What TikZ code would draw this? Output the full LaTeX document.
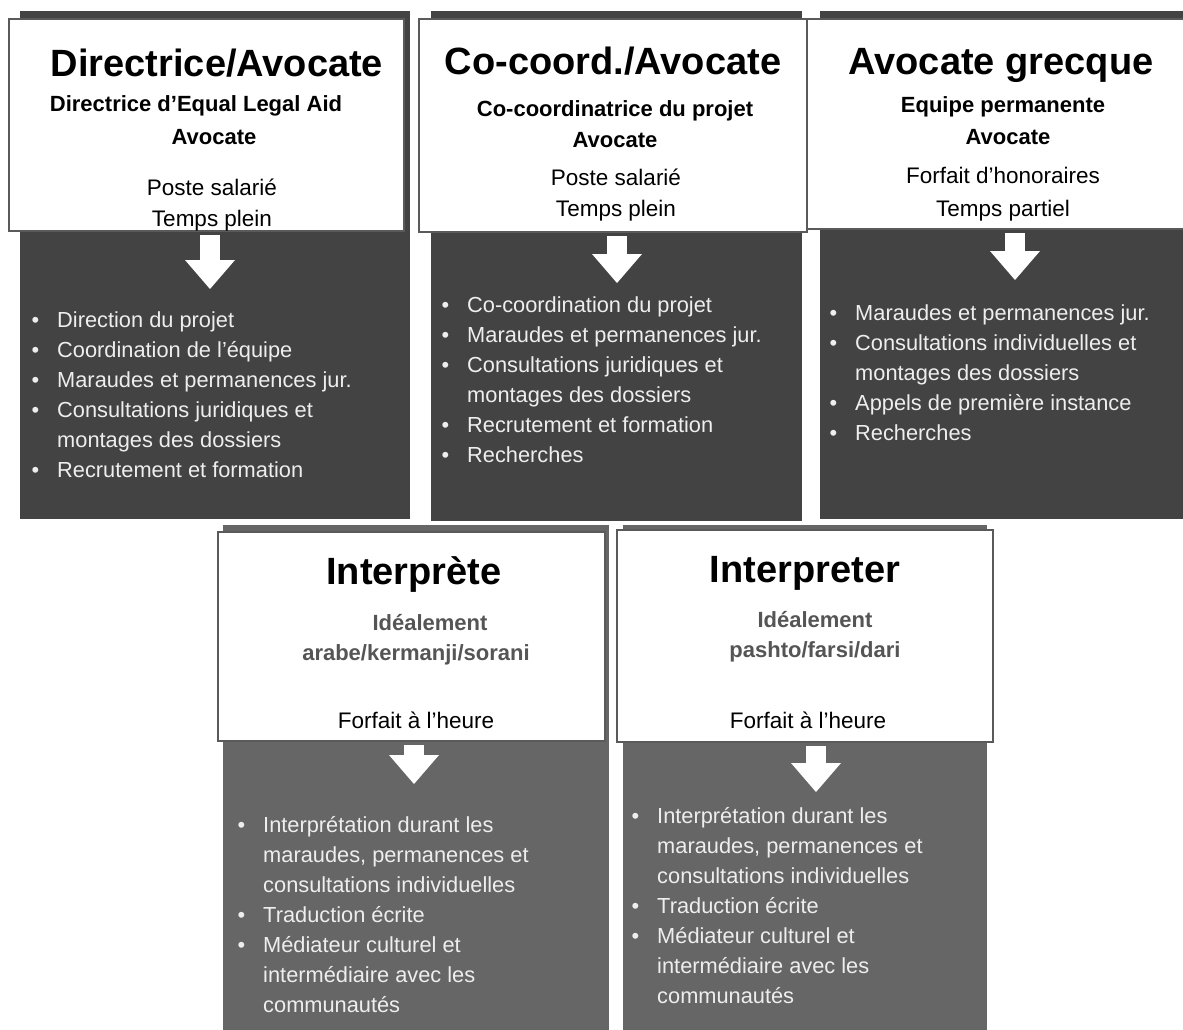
\documentclass[tikz,border=0pt]{standalone}
\usepackage{fontspec}
\setmainfont{Liberation Sans}
\usetikzlibrary{arrows.meta}
\definecolor{bgdark}{HTML}{434343}
\definecolor{bggrey}{HTML}{666666}
\definecolor{boxline}{HTML}{5A5A5A}
\definecolor{listtext}{HTML}{EEEEEE}
\definecolor{subgrey}{HTML}{555555}
\tikzset{
  cardbg/.style={rectangle, fill=#1, inner sep=0pt},
  whitebox/.style={rectangle, fill=white, draw=boxline, line width=2pt, inner sep=0pt},
  title/.style={font=\fontsize{38}{46}\bfseries, anchor=base, inner sep=0pt},
  subt/.style={font=\fontsize{22}{28}\bfseries, anchor=base, inner sep=0pt},
  info/.style={font=\fontsize{22.5}{28}\selectfont, anchor=base, inner sep=0pt},
  tasks/.style={font=\fontsize{21.8}{30}\selectfont, text=listtext, anchor=base west, inner sep=0pt},
  downarrow/.style={draw=white, line width=20pt, shorten <=3pt,
    -{Triangle[width=50pt,length=29pt,line width=0pt]}}
}
\newcommand{\tasklist}[1]{\begin{tabular}[t]{@{}l@{\hspace{18pt}}l@{}}#1\end{tabular}}
\begin{document}
\begin{tikzpicture}[x=1pt,y=-1pt]
\useasboundingbox (0,0) rectangle (1183,1030);
\clip (0,0) rectangle (1183,1030);

% top row
\node[cardbg=bgdark, minimum width=390pt, minimum height=508pt] (dirbg) at (215,265){};
\node[cardbg=bgdark, minimum width=371pt, minimum height=510pt] (coobg) at (616.5,266){};
\node[cardbg=bgdark, minimum width=370pt, minimum height=508pt] (grebg) at (1005,265){};
\node[whitebox, minimum width=395pt, minimum height=212pt] (dirbox) at (206.5,125){};
\node[whitebox, minimum width=388pt, minimum height=213pt] (coobox) at (613,125.5){};
\node[whitebox, minimum width=383pt, minimum height=210pt] (grebox) at (998.5,124){};

\node[title] (dirt) at (217,77){Directrice/Avocate};
\node[subt] (dirs1) at (196,112){Directrice d’Equal Legal Aid};
\node[subt] (dirs2) at (214,144){Avocate};
\node[info] (diri1) at (212,195){Poste salarié};
\node[info] (diri2) at (212,226){Temps plein};

\node[title] (coot) at (613,75){Co-coord./Avocate};
\node[subt] (coos1) at (615,117){Co-coordinatrice du projet};
\node[subt] (coos2) at (615,147){Avocate};
\node[info] (cooi1) at (616,185){Poste salarié};
\node[info] (cooi2) at (616,216){Temps plein};

\node[title] (gret) at (1001,75){Avocate grecque};
\node[subt] (gres1) at (1003,113){Equipe permanente};
\node[subt] (gres2) at (1008,144){Avocate};
\node[info] (grei1) at (1003,183){Forfait d’honoraires};
\node[info] (grei2) at (1003,216){Temps partiel};

\coordinate (dirtip) at (210,289);
\coordinate (cootip) at (617,283);
\coordinate (gretip) at (1015,280);
\draw[downarrow] (dirbox.south -| dirtip) -- (dirtip);
\draw[downarrow] (coobox.south -| cootip) -- (cootip);
\draw[downarrow] (grebox.south -| gretip) -- (gretip);

\node[tasks] (dirlist) at (31.4,327){\tasklist{
\textbullet & Direction du projet\\
\textbullet & Coordination de l’équipe\\
\textbullet & Maraudes et permanences jur.\\
\textbullet & Consultations juridiques et\\
 & montages des dossiers\\
\textbullet & Recrutement et formation}};
\node[tasks] (coolist) at (441.4,312){\tasklist{
\textbullet & Co-coordination du projet\\
\textbullet & Maraudes et permanences jur.\\
\textbullet & Consultations juridiques et\\
 & montages des dossiers\\
\textbullet & Recrutement et formation\\
\textbullet & Recherches}};
\node[tasks] (grelist) at (829.4,320){\tasklist{
\textbullet & Maraudes et permanences jur.\\
\textbullet & Consultations individuelles et\\
 & montages des dossiers\\
\textbullet & Appels de première instance\\
\textbullet & Recherches}};

% bottom row
\node[cardbg=bggrey, minimum width=386pt, minimum height=515pt] (arabg) at (416,782.5){};
\node[cardbg=bggrey, minimum width=364pt, minimum height=515pt] (pasbg) at (805,782.5){};
\node[whitebox, minimum width=387pt, minimum height=209pt] (arabox) at (411.5,636.5){};
\node[whitebox, minimum width=376pt, minimum height=212pt] (pasbox) at (805,636){};

\node[title] (arat) at (414,584){Interprète};
\node[subt, text=subgrey] (aras1) at (430,630){Idéalement};
\node[subt, text=subgrey] (aras2) at (416,660){arabe/kermanji/sorani};
\node[info] (arai1) at (416,728){Forfait à l’heure};

\node[title] (past) at (805,582){Interpreter};
\node[subt, text=subgrey] (pass1) at (815,627){Idéalement};
\node[subt, text=subgrey] (pass2) at (815,657){pashto/farsi/dari};
\node[info] (pasi1) at (808,728){Forfait à l’heure};

\coordinate (aratip) at (414,784);
\coordinate (pastip) at (816,792);
\draw[downarrow] (arabox.south -| aratip) -- (aratip);
\draw[downarrow] (pasbox.south -| pastip) -- (pastip);

\node[tasks] (aralist) at (237.4,832){\tasklist{
\textbullet & Interprétation durant les\\
 & maraudes, permanences et\\
 & consultations individuelles\\
\textbullet & Traduction écrite\\
\textbullet & Médiateur culturel et\\
 & intermédiaire avec les\\
 & communautés}};
\node[tasks] (paslist) at (631.4,823){\tasklist{
\textbullet & Interprétation durant les\\
 & maraudes, permanences et\\
 & consultations individuelles\\
\textbullet & Traduction écrite\\
\textbullet & Médiateur culturel et\\
 & intermédiaire avec les\\
 & communautés}};

\end{tikzpicture}
\end{document}
